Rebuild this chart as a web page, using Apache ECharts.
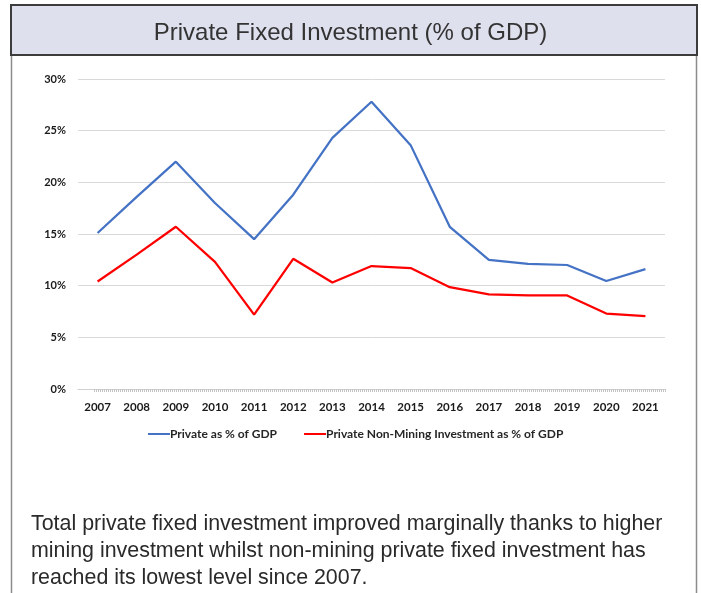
<!DOCTYPE html>
<html>
<head>
<meta charset="utf-8">
<script src="https://cdn.jsdelivr.net/npm/echarts@6/dist/echarts.min.js"></script>
<style>
  html, body { margin: 0; padding: 0; background: #ffffff; }
  #chart { width: 701px; height: 593px; }
</style>
</head>
<body>
<div id="chart"></div>
<script>
// Years on the category axis
const years = ['2007','2008','2009','2010','2011','2012','2013','2014','2015','2016','2017','2018','2019','2020','2021'];

// Total private fixed investment, % of GDP
const privateTotal = [15.1, 18.6, 22.0, 18.0, 14.5, 18.8, 24.3, 27.8, 23.6, 15.7, 12.5, 12.1, 12.0, 10.45, 11.6];

// Private non-mining investment, % of GDP
const privateNonMining = [10.4, 13.0, 15.7, 12.3, 7.2, 12.6, 10.3, 11.9, 11.7, 9.85, 9.15, 9.05, 9.05, 7.3, 7.05];

// Y axis ticks (percent)
const yTicks = [0, 5, 10, 15, 20, 25, 30];

const seriesNames = ['Private as % of GDP', 'Private Non-Mining Investment as % of GDP'];
const chartTitle = 'Private Fixed Investment (% of GDP)';
const commentary = [
  'Total private fixed investment improved marginally thanks to higher',
  'mining investment whilst non-mining private fixed investment has',
  'reached its lowest level since 2007.'
];

const labelFont = 'Lato, "Open Sans", sans-serif';
const bodyFont = '"Liberation Sans", Arial, Helvetica, sans-serif';

// Fine hatch slots used to texture the baseline
const hatchSlots = Array.from({ length: 293 }, (_, i) => String(i));

const chart = echarts.init(document.getElementById('chart'), null, { renderer: 'canvas' });

chart.setOption({
  animation: false,
  backgroundColor: '#ffffff',
  title: {
    text: chartTitle,
    left: 'center',
    top: 16,
    textStyle: { fontFamily: bodyFont, fontSize: 24, fontWeight: 'normal', color: '#333333' }
  },
  graphic: [
    // Title banner
    { type: 'rect', z: -1, shape: { x: 11, y: 5, width: 686, height: 50 },
      style: { fill: '#dfe0ee', stroke: '#3c3c3c', lineWidth: 2 } },
    // Panel side rules
    { type: 'line', shape: { x1: 11.5, y1: 56, x2: 11.5, y2: 593 }, style: { stroke: '#8c8c8c', lineWidth: 1.5 } },
    { type: 'line', shape: { x1: 696.5, y1: 56, x2: 696.5, y2: 593 }, style: { stroke: '#8c8c8c', lineWidth: 1.5 } },
    // Commentary text
    { type: 'text', left: 31, top: 511,
      style: { text: commentary.join('\n'), font: '21.4px ' + bodyFont, fill: '#2a2a2a', lineHeight: 27 } }
  ],
  legend: {
    left: 143,
    top: 423,
    itemWidth: 22,
    itemHeight: 2,
    itemGap: 27,
    icon: 'rect',
    textStyle: { fontFamily: labelFont, fontWeight: 'bold', fontSize: 12, color: '#262626', padding: [0, 0, 0, -5] },
    data: seriesNames
  },
  grid: { left: 78, right: 36, top: 79, bottom: 204, containLabel: false },
  xAxis: [
    {
      type: 'category',
      data: years,
      boundaryGap: true,
      axisLine: { show: true, lineStyle: { color: '#d0d0d0', width: 1 } },
      axisTick: { show: false },
      axisLabel: { margin: 12, fontFamily: labelFont, fontWeight: 'bold', fontSize: 11.5, color: '#1a1a1a' },
      splitLine: { show: false }
    },
    {
      type: 'category',
      data: hatchSlots,
      position: 'bottom',
      boundaryGap: true,
      axisLine: { show: false },
      axisLabel: { show: false },
      axisTick: {
        show: true,
        length: 3,
        interval: (i) => i >= 8,
        lineStyle: { color: '#c4c4c4', width: 1 }
      },
      splitLine: { show: false }
    }
  ],
  yAxis: {
    type: 'value',
    min: yTicks[0],
    max: yTicks[yTicks.length - 1],
    interval: 5,
    axisLine: { show: false },
    axisTick: { show: false },
    axisLabel: { margin: 12, formatter: '{value}%', fontFamily: labelFont, fontWeight: 'bold', fontSize: 11, color: '#1a1a1a' },
    splitLine: { show: true, lineStyle: { color: '#d9d9d9', width: 1 } }
  },
  series: [
    {
      name: seriesNames[0],
      type: 'line',
      data: privateTotal,
      xAxisIndex: 0,
      symbol: 'none',
      lineStyle: { color: '#4472c4', width: 2.25 },
      itemStyle: { color: '#4472c4' }
    },
    {
      name: seriesNames[1],
      type: 'line',
      data: privateNonMining,
      xAxisIndex: 0,
      symbol: 'none',
      lineStyle: { color: '#ff0000', width: 2.25 },
      itemStyle: { color: '#ff0000' }
    }
  ]
});
</script>
</body>
</html>
